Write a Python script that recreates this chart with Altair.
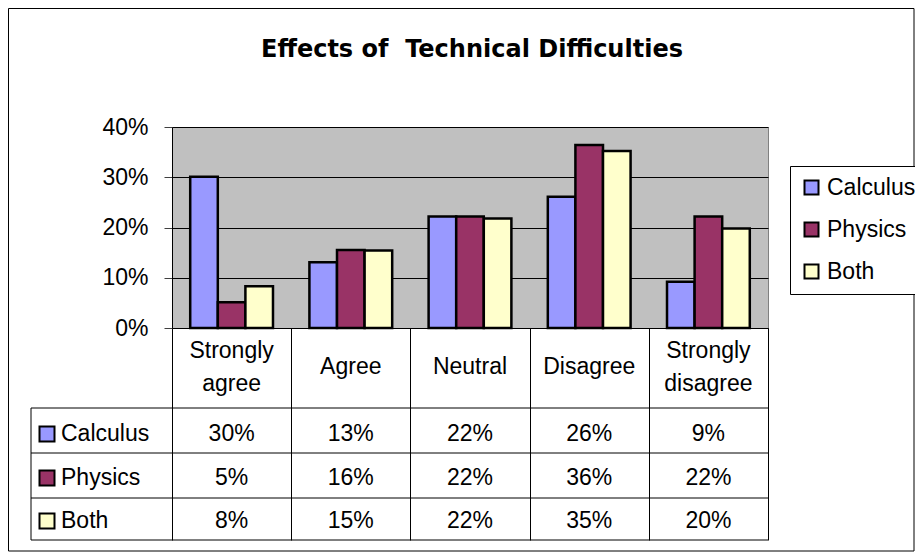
import altair as alt
import pandas as pd

# ---------------- data ----------------
categories = ["Strongly agree", "Agree", "Neutral", "Disagree", "Strongly disagree"]
series = ["Calculus", "Physics", "Both"]
calculus = [30.1, 13.1, 22.2, 26.1, 9.2]
physics = [5.1, 15.5, 22.2, 36.4, 22.2]
both = [8.3, 15.4, 21.8, 35.2, 19.8]
calculus_labels = ["30%", "13%", "22%", "26%", "9%"]
physics_labels = ["5%", "16%", "22%", "36%", "22%"]
both_labels = ["8%", "15%", "22%", "35%", "20%"]
colors = ["#9999FF", "#993366", "#FFFFCC"]
y_ticks = [0, 10, 20, 30, 40]
title_text = "Effects of\u00a0 Technical Difficulties"

rows = []
for s, vals, labs in zip(series, [calculus, physics, both],
                         [calculus_labels, physics_labels, both_labels]):
    for c, v, l in zip(categories, vals, labs):
        rows.append({"category": c, "series": s, "value": v, "label": l})
df = pd.DataFrame(rows)
cat_df = pd.DataFrame({"category": categories})
ser_df = pd.DataFrame({"series": series})
title_df = pd.DataFrame({"t": [title_text]})
one = pd.DataFrame({"k": [0]})

# ---------------- layout ----------------
W, H = 596, 201
PAD_L, PAD_T = 164, 119
TOTAL_W, TOTAL_H = 907, 544
FONT = "Liberation Sans"
FS = 23
LINE_H = 33
table_left = -141
header_bottom = 281
table_lines = [281, 326, 371, 413]
row_y = [307, 351, 394]
header_y = 240

x_enc = alt.X("category:N", sort=categories,
              scale=alt.Scale(paddingInner=0, paddingOuter=0),
              axis=alt.Axis(title=None, labels=False, tickBand="extent",
                            tickSize=table_lines[-1] - H, tickColor="black",
                            tickWidth=1, domainColor="black", domainWidth=1))
color_scale = alt.Scale(domain=series, range=colors)
legend = alt.Legend(title=None, orient="none", legendX=618, legendY=39,
                    strokeColor="black", fillColor="white", padding=10,
                    symbolType="square", symbolSize=196,
                    symbolStrokeColor="black", symbolStrokeWidth=2,
                    labelFontSize=FS, labelFont=FONT, labelColor="black",
                    labelOffset=4, rowPadding=18, cornerRadius=0)

bars = alt.Chart(df).mark_bar(stroke="black", strokeWidth=2.5).encode(
    x=x_enc,
    xOffset=alt.XOffset("series:N", sort=series,
                        scale=alt.Scale(paddingOuter=0.66, paddingInner=0)),
    y=alt.Y("value:Q", scale=alt.Scale(domain=[0, 40], nice=False),
            axis=alt.Axis(values=y_ticks, labelExpr="datum.value + '%'",
                          title=None, grid=True, gridColor="black",
                          gridWidth=1, tickSize=8, tickColor="#404040",
                          labelFontSize=FS, labelFont=FONT,
                          labelColor="black", labelPadding=16,
                          domainColor="black", domainWidth=1)),
    color=alt.Color("series:N", scale=color_scale, legend=legend),
)

layers = [bars]

# table horizontal lines
for ly in table_lines:
    layers.append(alt.Chart(one).mark_rule(color="black", strokeWidth=1).encode(
        x=alt.value(table_left), x2=alt.value(W), y=alt.value(ly)))
# table left border
layers.append(alt.Chart(one).mark_rule(color="black", strokeWidth=1).encode(
    x=alt.value(table_left), y=alt.value(header_bottom),
    y2=alt.value(table_lines[-1])))

# header labels: two-line ones and single-line ones
header_text = dict(lineBreak="\n", fontSize=FS, font=FONT, lineHeight=LINE_H,
                   baseline="middle", align="center", color="black")
layers.append(alt.Chart(cat_df).transform_filter(
    "indexof(datum.category, ' ') >= 0"
).transform_calculate(
    wrapped="replace(datum.category, ' ', '\\n')"
).mark_text(**header_text).encode(
    x=alt.X("category:N", sort=categories),
    y=alt.value(header_y - LINE_H / 2), text="wrapped:N"))
layers.append(alt.Chart(cat_df).transform_filter(
    "indexof(datum.category, ' ') < 0"
).mark_text(**header_text).encode(
    x=alt.X("category:N", sort=categories),
    y=alt.value(header_y), text="category:N"))

# rows
for i, s in enumerate(series):
    layers.append(alt.Chart(ser_df).transform_filter(
        alt.datum.series == s).mark_square(
        size=225, stroke="black", strokeWidth=2, opacity=1).encode(
        x=alt.value(table_left + 16), y=alt.value(row_y[i]),
        color=alt.Color("series:N", scale=color_scale, legend=legend)))
    layers.append(alt.Chart(ser_df).transform_filter(
        alt.datum.series == s).mark_text(
        align="left", baseline="middle", fontSize=FS, font=FONT,
        color="black").encode(
        x=alt.value(table_left + 30), y=alt.value(row_y[i]), text="series:N"))
    layers.append(alt.Chart(df).transform_filter(
        alt.datum.series == s).mark_text(
        align="center", baseline="middle", fontSize=FS, font=FONT,
        color="black").encode(
        x=alt.X("category:N", sort=categories), y=alt.value(row_y[i]),
        text="label:N"))

# title
layers.append(alt.Chart(title_df).mark_text(
    fontSize=24, fontWeight="bold", font="DejaVu Sans", align="center",
    baseline="alphabetic", color="black").encode(
    x=alt.value(W / 2 + 2), y=alt.value(-70), text="t:N"))

# outer border
layers.append(alt.Chart(one).mark_rect(
    fillOpacity=0, stroke="black", strokeWidth=1).encode(
    x=alt.value(-PAD_L + 0.5), x2=alt.value(TOTAL_W - PAD_L - 1),
    y=alt.value(-PAD_T + 0.5), y2=alt.value(TOTAL_H - PAD_T - 1)))

chart = alt.layer(*layers).properties(
    width=W, height=H,
    autosize=alt.AutoSizeParams(type="none"),
    padding={"left": PAD_L, "top": PAD_T,
             "right": TOTAL_W - PAD_L - W, "bottom": TOTAL_H - PAD_T - H},
).configure(
    background="white", font=FONT,
    view=alt.ViewConfig(fill="#C0C0C0", stroke="#808080", strokeWidth=1),
)

chart.save("out.html", embed_options={"renderer": "svg", "actions": False})
